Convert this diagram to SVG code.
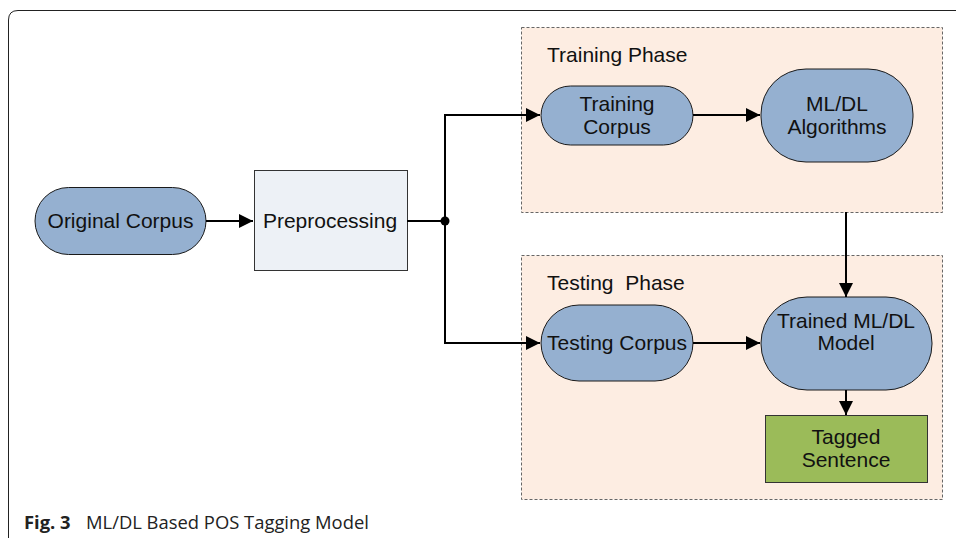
<svg xmlns="http://www.w3.org/2000/svg" width="956" height="538" viewBox="0 0 956 538">
<defs>
<marker id="arr" viewBox="0 0 10 10" refX="10" refY="5" markerWidth="14" markerHeight="14" markerUnits="userSpaceOnUse" orient="auto">
<path d="M0,0 L10,5 L0,10 z" fill="#000"/>
</marker>
</defs>
<style>
.pill{fill:#95b0d0;stroke:#1a1a1a;stroke-width:1}
.lbl{font-family:"Liberation Sans",Arial,sans-serif;font-size:21px;fill:#111;text-anchor:middle}
.phase{font-family:"Liberation Sans",Arial,sans-serif;font-size:21px;fill:#111}
.grp{fill:#fdede2;stroke:#666;stroke-width:1;stroke-dasharray:3,2}
.conn{fill:none;stroke:#000;stroke-width:2}
.cap{font-family:"Open Sans","Noto Sans",sans-serif;font-size:18.4px;fill:#222}
</style>
<rect width="956" height="538" fill="#fff"/>
<path d="M8.5,538 V20 Q8.5,10.5 18,10.5 H956" fill="none" stroke="#222" stroke-width="1"/>
<g id="training-phase">
<rect class="grp" x="521.5" y="27.5" width="421" height="185"/>
<text class="phase" x="547" y="62">Training Phase</text>
</g>
<g id="testing-phase">
<rect class="grp" x="521.5" y="255.5" width="421" height="244"/>
<text class="phase" x="547" y="290" xml:space="preserve">Testing  Phase</text>
</g>
<g id="original-corpus">
<rect class="pill" x="35" y="187.5" width="171" height="67" rx="33.5"/>
<text class="lbl" x="120.5" y="228">Original Corpus</text>
</g>
<g id="preprocessing">
<rect x="254.5" y="170.5" width="153" height="100" fill="#edf1f6" stroke="#333" stroke-width="1"/>
<text class="lbl" x="330" y="228">Preprocessing</text>
</g>
<g id="training-corpus">
<rect class="pill" x="541" y="86" width="152" height="59" rx="29.5"/>
<text class="lbl" x="617" y="111">Training</text>
<text class="lbl" x="617" y="134">Corpus</text>
</g>
<g id="mldl-algorithms">
<rect class="pill" x="761" y="69" width="152" height="93" rx="45"/>
<text class="lbl" x="837" y="111">ML/DL</text>
<text class="lbl" x="837" y="134">Algorithms</text>
</g>
<g id="testing-corpus">
<rect class="pill" x="541" y="305" width="152" height="76" rx="38"/>
<text class="lbl" x="617" y="350">Testing Corpus</text>
</g>
<g id="trained-model">
<rect class="pill" x="761" y="297" width="171" height="93" rx="46"/>
<text class="lbl" x="846" y="328">Trained ML/DL</text>
<text class="lbl" x="846" y="350">Model</text>
</g>
<g id="tagged-sentence">
<rect x="765.5" y="415.5" width="162" height="67" fill="#9bbb59" stroke="#333" stroke-width="1"/>
<text class="lbl" x="846" y="444">Tagged</text>
<text class="lbl" x="846" y="467">Sentence</text>
</g>
<g id="connectors">
<line class="conn" x1="206" y1="221" x2="253" y2="221" marker-end="url(#arr)"/>
<line class="conn" x1="407" y1="221" x2="445" y2="221"/>
<circle cx="445" cy="221" r="4.5" fill="#000"/>
<path class="conn" d="M445,341 V115 H540" marker-end="url(#arr)"/>
<path class="conn" d="M445,221 V343 H540" marker-end="url(#arr)"/>
<line class="conn" x1="693" y1="115" x2="760" y2="115" marker-end="url(#arr)"/>
<line class="conn" x1="693" y1="343" x2="760" y2="343" marker-end="url(#arr)"/>
<line class="conn" x1="846" y1="212" x2="846" y2="297" marker-end="url(#arr)"/>
<line class="conn" x1="846" y1="390" x2="846" y2="415" marker-end="url(#arr)"/>
</g>
<text class="cap" x="24" y="529"><tspan font-weight="bold">Fig. 3</tspan><tspan x="86">ML/DL Based POS Tagging Model</tspan></text>
</svg>
